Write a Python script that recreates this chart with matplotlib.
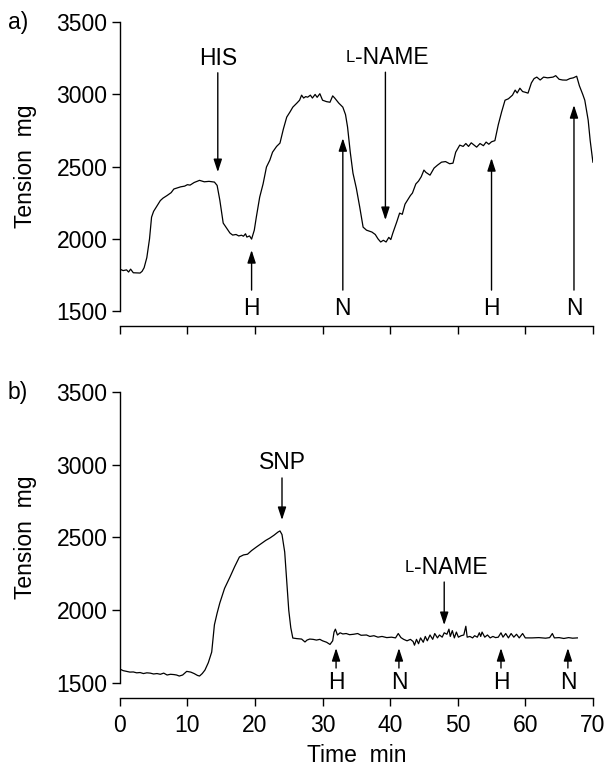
import matplotlib
matplotlib.use("Agg")
import matplotlib.pyplot as plt

plt.rcParams['font.family'] = ['Liberation Sans', 'DejaVu Sans']

# ---------------- data ----------------
time_a = [0.0, 0.5, 1.0, 1.3, 1.6, 2.0, 3.0, 3.3, 3.6, 4.0, 4.4, 4.7, 5.0, 5.4, 6.0, 6.4, 7.0, 7.6, 8.0, 8.4,
          9.0, 9.6, 10.0, 10.4, 11.0, 11.8, 12.5, 13.2, 14.0, 14.4, 14.8, 15.3, 16.0, 16.3, 16.7, 17.2, 17.6,
          18.0, 18.3, 18.6, 18.8, 19.2, 19.5, 19.9, 20.2, 20.7, 21.2, 21.7, 22.2, 22.6, 23.2, 23.7, 24.2, 24.7,
          25.2, 25.6, 26.2, 26.6, 26.9, 27.2, 27.5, 27.8, 28.2, 28.5, 28.9, 29.2, 29.6, 30.0, 30.6, 31.1, 31.5,
          31.8, 32.4, 33.0, 33.4, 33.7, 34.1, 34.5, 35.0, 35.5, 36.0, 36.5, 37.3, 37.8, 38.2, 38.6, 39.0, 39.4,
          39.8, 40.1, 40.4, 41.0, 41.4, 41.8, 42.2, 42.6, 43.0, 43.3, 43.8, 44.2, 44.6, 45.0, 45.3, 45.9, 46.5,
          47.0, 47.6, 48.2, 48.8, 49.3, 49.7, 50.3, 50.8, 51.2, 51.6, 52.0, 52.4, 52.8, 53.3, 53.8, 54.2, 54.6,
          55.0, 55.5, 56.0, 56.5, 57.0, 57.5, 58.1, 58.5, 58.8, 59.2, 59.6, 60.0, 60.4, 60.9, 61.3, 61.7, 62.2,
          62.7, 63.3, 64.1, 64.5, 65.0, 65.5, 66.1, 66.6, 67.1, 67.6, 68.0, 68.5, 68.8, 69.3, 69.6, 70.0]
tension_a = [1790, 1780, 1785, 1770, 1790, 1765, 1763, 1775, 1800, 1870, 2000, 2150, 2190, 2220, 2265, 2282, 2300,
             2320, 2345, 2351, 2360, 2365, 2375, 2372, 2390, 2405, 2395, 2398, 2393, 2370, 2268, 2109, 2060, 2040,
             2026, 2030, 2020, 2025, 2018, 2035, 2012, 2020, 1998, 2060, 2150, 2289, 2380, 2497, 2545, 2600, 2640,
             2663, 2760, 2843, 2880, 2912, 2940, 2960, 2995, 2975, 2985, 2981, 2995, 2975, 3000, 2980, 3005, 2960,
             2950, 2946, 2990, 2975, 2940, 2912, 2860, 2774, 2600, 2455, 2350, 2220, 2081, 2060, 2047, 2030, 2000,
             1978, 1990, 1978, 2010, 1995, 2040, 2120, 2178, 2170, 2240, 2270, 2300, 2317, 2380, 2400, 2430, 2476,
             2460, 2441, 2490, 2510, 2531, 2535, 2520, 2524, 2600, 2649, 2640, 2660, 2640, 2665, 2650, 2635, 2660,
             2645, 2670, 2655, 2672, 2680, 2790, 2880, 2960, 2970, 2995, 3030, 3010, 3043, 3020, 3015, 3009, 3080,
             3110, 3120, 3100, 3120, 3115, 3120, 3130, 3105, 3100, 3099, 3110, 3115, 3126, 3060, 3000, 2960, 2822,
             2680, 2531]

time_b = [0, 0.5, 1.0, 1.5, 2.0, 2.5, 3.0, 3.5, 4.0, 4.5, 5.0, 5.5, 6.0, 6.5, 7.0, 7.5, 8.0, 8.4, 8.8, 9.3, 9.9,
          10.5, 11.0, 11.5, 11.8, 12.2, 12.6, 13.1, 13.6, 14.0, 14.4, 14.8, 15.5, 16.3, 17.0, 17.7, 18.3, 18.9,
          19.5, 20.2, 21.0, 21.6, 22.2, 22.8, 23.4, 23.7, 24.0, 24.4, 24.7, 25.0, 25.3, 25.6, 26.2, 26.9, 27.4,
          27.7, 28.1, 28.6, 29.1, 29.6, 30.0, 30.6, 31.1, 31.5, 31.7, 31.9, 32.2, 32.6, 33.0, 33.5, 34.0, 34.6,
          35.2, 35.7, 36.5, 37.0, 37.6, 38.2, 38.8, 39.5, 40.2, 40.8, 41.2, 41.6, 42.0, 42.5, 43.0, 43.4, 43.6,
          43.9, 44.2, 44.5, 44.9, 45.2, 45.5, 45.9, 46.3, 46.6, 47.0, 47.3, 47.7, 48.0, 48.4, 48.7, 48.9, 49.2,
          49.5, 49.8, 50.1, 50.5, 50.9, 51.2, 51.4, 51.8, 52.2, 52.5, 52.9, 53.2, 53.4, 53.6, 54.0, 54.4, 54.8,
          55.2, 55.6, 56.0, 56.4, 56.7, 57.1, 57.5, 57.9, 58.3, 58.7, 59.1, 59.6, 60.0, 61.0, 62.0, 63.0, 63.6,
          64.0, 64.3, 65.0, 65.7, 66.4, 67.0, 67.7]
tension_b = [1596, 1585, 1580, 1575, 1576, 1570, 1572, 1565, 1570, 1568, 1562, 1565, 1560, 1568, 1555, 1560, 1558,
             1555, 1548, 1555, 1580, 1575, 1565, 1552, 1548, 1565, 1589, 1640, 1713, 1900, 1980, 2050, 2150, 2228,
             2300, 2366, 2380, 2385, 2410, 2434, 2460, 2480, 2496, 2515, 2537, 2545, 2520, 2400, 2200, 2000, 1880,
             1809, 1805, 1802, 1782, 1795, 1802, 1800, 1795, 1800, 1790, 1780, 1765, 1790, 1850, 1870, 1830, 1845,
             1837, 1840, 1832, 1835, 1840, 1828, 1830, 1820, 1825, 1815, 1820, 1812, 1815, 1810, 1840, 1812, 1800,
             1790, 1800, 1785, 1760, 1800, 1770, 1810, 1780, 1820, 1790, 1830, 1800, 1840, 1810, 1830, 1815, 1845,
             1835, 1870, 1820, 1860, 1810, 1850, 1815, 1825, 1830, 1890, 1815, 1820, 1810, 1825, 1815, 1845, 1820,
             1850, 1815, 1830, 1810, 1820, 1812, 1815, 1845, 1815, 1840, 1810, 1840, 1815, 1835, 1810, 1840, 1810,
             1810, 1812, 1808, 1812, 1840, 1810, 1812, 1806, 1812, 1808, 1810]

x_ticks = [0, 10, 20, 30, 40, 50, 60, 70]
y_ticks = [1500, 2000, 2500, 3000, 3500]

# annotations: (label, x, text_y, tail_y, tip_y)
down_a = [("HIS", 14.5, 3250, 3150, 2462), ("L-NAME", 39.3, 3258, 3154, 2130)]
up_a = [("H", 19.5, 1515, 1645, 1922), ("N", 33.0, 1515, 1645, 2697),
        ("H", 55.0, 1515, 1645, 2559), ("N", 67.2, 1515, 1645, 2926)]
down_b = [("SNP", 24.0, 3012, 2909, 2620), ("L-NAME", 48.0, 2297, 2194, 1898)]
up_b = [("H", 32.0, 1505, 1603, 1740), ("N", 41.3, 1505, 1603, 1740),
        ("H", 56.4, 1505, 1603, 1740), ("N", 66.3, 1505, 1603, 1740)]

FS = 16.5
fig = plt.figure(figsize=(6.05, 7.67), dpi=100)
ax_a = fig.add_axes([0.198, 0.5945, 0.782, 0.3765])
ax_b = fig.add_axes([0.198, 0.1095, 0.782, 0.3795])

arrow_kw = dict(arrowstyle='-|>,head_length=0.55,head_width=0.18', color='black', lw=1.0,
                shrinkA=0, shrinkB=0, mutation_scale=14)


def draw_label(ax, label, x, y):
    if label.startswith("L-"):
        ax.annotate("L", xy=(x, y), xytext=(-22, 0), textcoords='offset points',
                    ha='right', va='center', fontsize=FS * 0.72)
        ax.annotate(label[1:], xy=(x, y), xytext=(-22, 0), textcoords='offset points',
                    ha='left', va='center', fontsize=FS)
    else:
        ax.text(x, y, label, ha='center', va='center', fontsize=FS)


def style(ax, show_labels):
    ax.set_xlim(0, 70)
    ax.set_ylim(1500, 3500)
    ax.set_xticks(x_ticks)
    ax.set_yticks(y_ticks)
    for s in ['top', 'right']:
        ax.spines[s].set_visible(False)
    ax.spines['bottom'].set_position(('outward', 11))
    ax.spines['left'].set_linewidth(1.0)
    ax.spines['bottom'].set_linewidth(1.0)
    ax.tick_params(direction='out', length=6, width=1.0, labelsize=FS, pad=3)
    ax.tick_params(axis='x', pad=5)
    if not show_labels:
        ax.tick_params(axis='x', labelbottom=False)
    ax.set_ylabel("Tension  mg", fontsize=FS)


for ax, t, v, downs, ups, show in [(ax_a, time_a, tension_a, down_a, up_a, False),
                                   (ax_b, time_b, tension_b, down_b, up_b, True)]:
    ax.plot(t, v, color='black', lw=0.9)
    style(ax, show)
    for label, x, ty, tail, tip in downs:
        ax.annotate('', xy=(x, tip), xytext=(x, tail), arrowprops=arrow_kw)
        draw_label(ax, label, x, ty)
    for label, x, ty, tail, tip in ups:
        ax.annotate('', xy=(x, tip), xytext=(x, tail), arrowprops=arrow_kw)
        ax.text(x, ty, label, ha='center', va='center', fontsize=FS)

ax_b.set_xlabel("Time  min", fontsize=FS, labelpad=5)
ax_a.yaxis.set_label_coords(-0.176, 0.5)
ax_b.yaxis.set_label_coords(-0.176, 0.5)

fig.text(8 / 605, 1 - 22 / 767, "a)", ha='left', va='center', fontsize=FS)
fig.text(8 / 605, 1 - 392 / 767, "b)", ha='left', va='center', fontsize=FS)

fig.savefig("out.png", dpi=100)
